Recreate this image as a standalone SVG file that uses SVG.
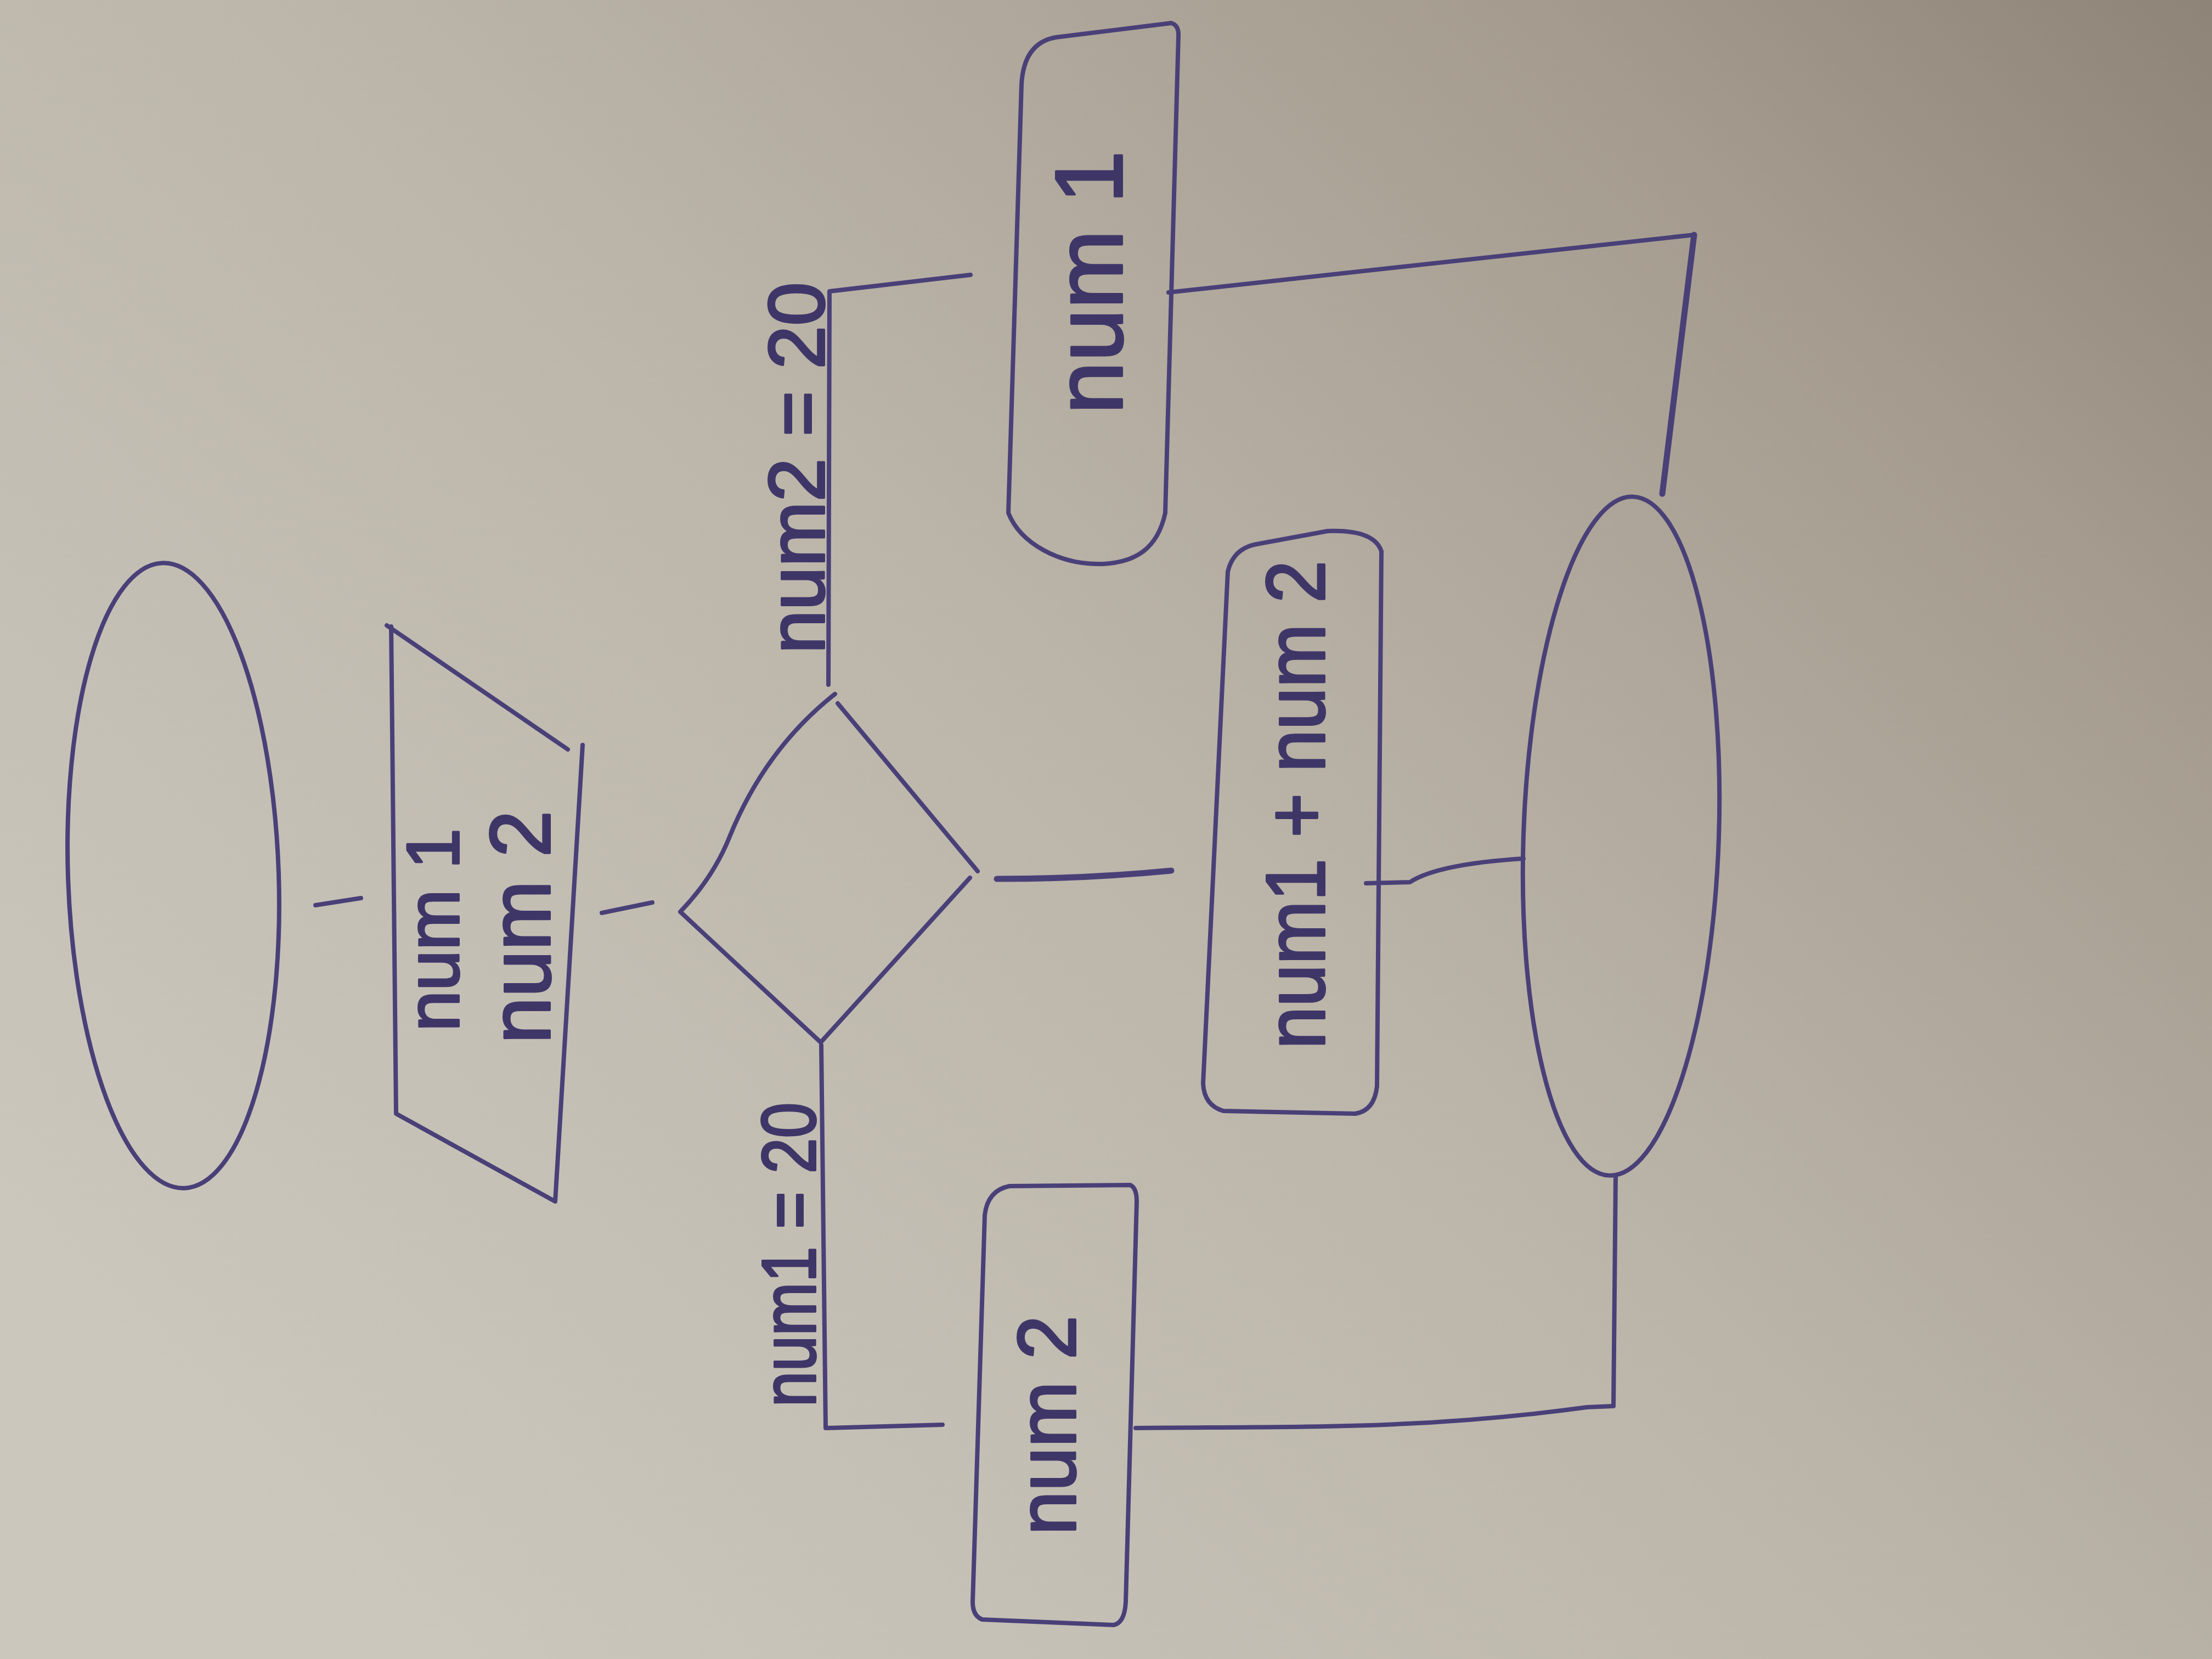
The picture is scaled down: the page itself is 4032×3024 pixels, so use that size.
<svg xmlns="http://www.w3.org/2000/svg" width="4032" height="3024" viewBox="0 0 4032 3024">
  <defs>
    <linearGradient id="paper" x1="0" y1="0.75" x2="1" y2="0">
      <stop offset="0" stop-color="#cbc7bd"/>
      <stop offset="0.45" stop-color="#bcb6aa"/>
      <stop offset="0.8" stop-color="#a59c8f"/>
      <stop offset="1" stop-color="#8e8477"/>
    </linearGradient>
    <style>
      .ink { fill: none; stroke: #4a4078; stroke-width: 8; stroke-linecap: round; stroke-linejoin: round; }
      .thick { stroke-width: 11; }
      .hand { font-family: "Liberation Sans", "DejaVu Sans", sans-serif; fill: #3f3668; stroke: #3f3668; stroke-width: 4; stroke-linejoin: round; text-anchor: middle; }
    </style>
  </defs>

  <!-- sheet of paper -->
  <rect x="0" y="0" width="4032" height="3024" fill="url(#paper)"/>

  <!-- start terminal -->
  <g id="start">
    <ellipse class="ink" cx="316" cy="1596" rx="192" ry="570" transform="rotate(-2 316 1596)"/>
  </g>

  <!-- input: num 1, num 2 -->
  <g id="input">
    <path class="ink" d="M 705 1140 L 1035 1366 M 1062 1358 L 1012 2190 L 722 2030 L 713 1142"/>
    <text class="hand" font-size="135" textLength="370" lengthAdjust="spacingAndGlyphs" transform="translate(836 1695) rotate(-90)">num 1</text>
    <text class="hand" font-size="155" textLength="425" lengthAdjust="spacingAndGlyphs" transform="translate(1002 1690) rotate(-90)">num 2</text>
  </g>

  <!-- decision -->
  <g id="decision">
    <path class="ink" d="M 1522 1265 Q 1395 1365 1330 1525 Q 1300 1600 1240 1662 L 1496 1900 L 1768 1600 M 1782 1588 L 1527 1282"/>
  </g>

  <!-- output num 1 -->
  <g id="out-num1">
    <path class="ink" d="M 1862 154 Q 1866 78 1925 68 L 2135 42 Q 2149 46 2148 66 L 2124 935 C 2110 1000 2070 1025 2010 1028 C 1930 1030 1860 990 1838 935 Z"/>
    <text class="hand" font-size="175" textLength="480" lengthAdjust="spacingAndGlyphs" transform="translate(2045 515) rotate(-90)">num 1</text>
  </g>

  <!-- output num1 + num 2 -->
  <g id="out-sum">
    <path class="ink" d="M 2238 1042 Q 2248 1000 2290 992 L 2420 968 Q 2505 965 2518 1005 L 2510 1980 Q 2505 2025 2470 2030 L 2230 2025 Q 2195 2015 2193 1975 Z"/>
    <text class="hand" font-size="152" textLength="890" lengthAdjust="spacingAndGlyphs" transform="translate(2414 1467) rotate(-90)">num1 + num 2</text>
  </g>

  <!-- output num 2 -->
  <g id="out-num2">
    <path class="ink" d="M 1795 2215 Q 1800 2170 1840 2162 L 2060 2160 Q 2072 2165 2072 2190 L 2052 2920 Q 2050 2958 2030 2962 L 1790 2952 Q 1773 2945 1773 2920 Z"/>
    <text class="hand" font-size="150" textLength="400" lengthAdjust="spacingAndGlyphs" transform="translate(1960 2598) rotate(-90)">num 2</text>
  </g>

  <!-- end terminal -->
  <g id="end">
    <ellipse class="ink" cx="2955" cy="1524" rx="178" ry="619" transform="rotate(2 2955 1524)"/>
  </g>

  <!-- connectors and branch labels -->
  <g id="connectors">
    <path class="ink" d="M 575 1650 L 658 1637"/>
    <path class="ink" d="M 1097 1664 L 1189 1645"/>
    <path class="ink" d="M 1510 1248 L 1512 531 L 1769 501"/>
    <path class="ink" d="M 1497 1905 L 1505 2603 L 1718 2597"/>
    <path class="ink thick" d="M 1817 1602 Q 1980 1602 2135 1587"/>
    <path class="ink" d="M 2490 1610 L 2570 1608 Q 2620 1575 2777 1565"/>
    <path class="ink" d="M 2130 533 L 3088 428"/>
    <path class="ink thick" d="M 3088 428 L 3030 900"/>
    <path class="ink" d="M 2070 2603 C 2400 2600 2600 2605 2893 2565 L 2941 2563 L 2945 2143"/>
    <text class="hand" font-size="145" textLength="677" lengthAdjust="spacingAndGlyphs" transform="translate(1502 853) rotate(-90)">num2 = 20</text>
    <text class="hand" font-size="140" textLength="555" lengthAdjust="spacingAndGlyphs" transform="translate(1486 2287) rotate(-90)">num1 = 20</text>
  </g>
</svg>
